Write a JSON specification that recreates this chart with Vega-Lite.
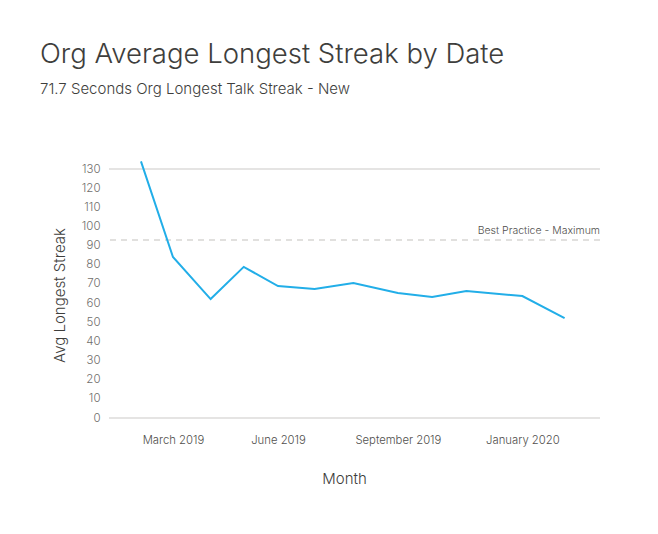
{
  "$schema": "https://vega.github.io/schema/vega-lite/v6.json",
  "width": 491,
  "height": 257,
  "autosize": "none",
  "padding": {"left": 109, "top": 161, "right": 58, "bottom": 116},
  "background": "white",
  "config": {"view": {"stroke": null}, "font": "Inter"},
  "title": {
    "text": "Org Average Longest Streak by Date",
    "subtitle": "71.7 Seconds Org Longest Talk Streak - New",
    "anchor": "start",
    "frame": "group",
    "dx": -69,
    "offset": 60,
    "font": "Inter",
    "fontSize": 27.5,
    "fontWeight": 300,
    "color": "#3e3e3c",
    "subtitleFont": "Inter",
    "subtitleFontSize": 15,
    "subtitleFontWeight": 300,
    "subtitleColor": "#3e3e3c",
    "subtitlePadding": 14
  },
  "datasets": {
    "series": [
      {"month": "2019-02-01", "streak": 134},
      {"month": "2019-03-01", "streak": 84.1},
      {"month": "2019-04-03", "streak": 62.1},
      {"month": "2019-05-02", "streak": 78.9},
      {"month": "2019-06-01", "streak": 68.9},
      {"month": "2019-07-03", "streak": 67.4},
      {"month": "2019-08-06", "streak": 70.5},
      {"month": "2019-09-14", "streak": 65.3},
      {"month": "2019-10-14", "streak": 63.2},
      {"month": "2019-11-13", "streak": 66.3},
      {"month": "2020-01-01", "streak": 63.7},
      {"month": "2020-02-07", "streak": 52.2}
    ],
    "reference": [
      {"label": "Best Practice - Maximum", "streak": 93, "month": "2020-03-09"}
    ],
    "gridlines": [
      {"streak": 0},
      {"streak": 130}
    ]
  },
  "encoding": {
    "y": {
      "field": "streak",
      "type": "quantitative",
      "title": "Avg Longest Streak",
      "scale": {"domain": [0, 134.2], "nice": false, "zero": true},
      "axis": {
        "values": [0, 10, 20, 30, 40, 50, 60, 70, 80, 90, 100, 110, 120, 130],
        "grid": false,
        "ticks": false,
        "domain": false,
        "labelOverlap": false,
        "labelFontSize": 11.5,
        "labelFontWeight": 300,
        "labelColor": "#706e6b",
        "labelFont": "Inter",
        "labelPadding": 9,
        "titleFont": "Inter",
        "titleFontSize": 15,
        "titleFontWeight": 300,
        "titleColor": "#3e3e3c",
        "titlePadding": 14,
        "titleY": 134
      }
    }
  },
  "layer": [
    {
      "data": {"name": "gridlines"},
      "mark": {"type": "rule", "color": "#dddbda", "strokeWidth": 1.5}
    },
    {
      "data": {"name": "reference"},
      "mark": {"type": "rule", "color": "#d8d6d4", "strokeWidth": 1.5, "strokeDash": [6, 5]}
    },
    {
      "data": {"name": "series"},
      "mark": {"type": "line", "color": "#22aee8", "strokeWidth": 2, "clip": false},
      "encoding": {
        "x": {
          "field": "month",
          "type": "temporal",
          "title": "Month",
          "scale": {
            "type": "utc",
            "domain": [{"year": 2019, "month": 1, "date": 4, "utc": true}, {"year": 2020, "month": 3, "date": 9, "utc": true}],
            "nice": false
          },
          "axis": {
            "values": [
              {"year": 2019, "month": 3, "date": 1, "utc": true},
              {"year": 2019, "month": 6, "date": 1, "utc": true},
              {"year": 2019, "month": 9, "date": 14, "utc": true},
              {"year": 2020, "month": 1, "date": 1, "utc": true}
            ],
            "format": "%B %Y",
            "grid": false,
            "ticks": false,
            "domain": false,
            "labelFontSize": 11.3,
            "labelFontWeight": 300,
            "labelColor": "#514f4d",
            "labelFont": "Inter",
            "labelPadding": 16,
            "labelOverlap": false,
            "titleFont": "Inter",
            "titleFontSize": 15,
            "titleFontWeight": 300,
            "titleColor": "#3e3e3c",
            "titlePadding": 26,
            "titleX": 235
          }
        }
      }
    },
    {
      "data": {"name": "reference"},
      "mark": {"type": "text", "align": "right", "baseline": "alphabetic", "dy": -6, "fontSize": 10.5, "fontWeight": 300, "color": "#514f4d", "font": "Inter"},
      "encoding": {
        "x": {"field": "month", "type": "temporal"},
        "text": {"field": "label"}
      }
    }
  ]
}
